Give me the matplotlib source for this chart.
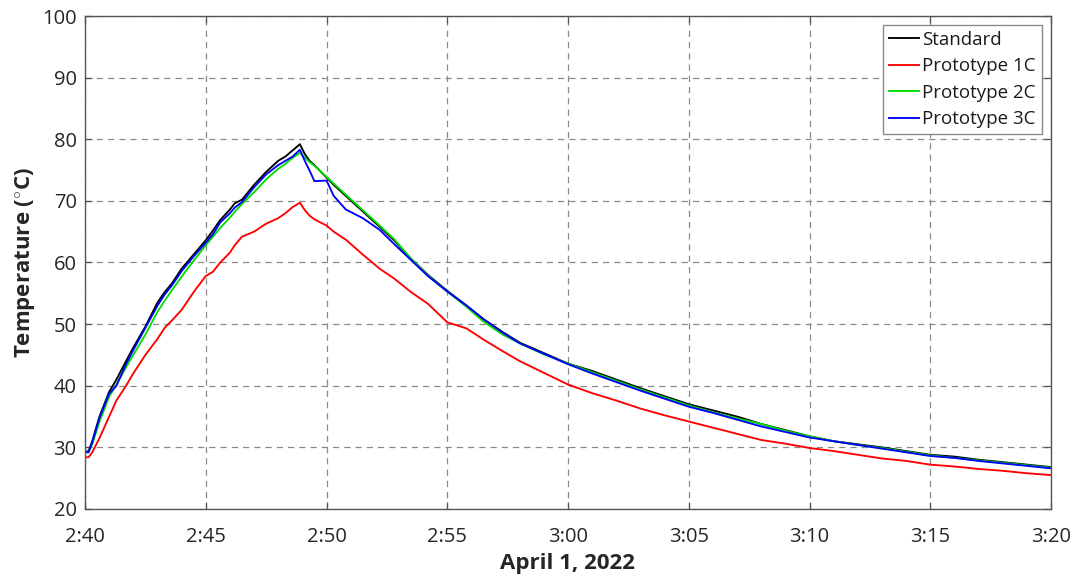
import matplotlib
matplotlib.use("Agg")
import matplotlib.pyplot as plt

plt.rcParams['font.family'] = ['Open Sans', 'DejaVu Sans']
plt.rcParams['mathtext.fontset'] = 'custom'
plt.rcParams['mathtext.rm'] = 'Open Sans'
plt.rcParams['mathtext.bf'] = 'Open Sans:bold'

# minutes after 2:40
t = [0, 0.15, 0.3, 0.6, 1.0, 1.3, 1.7, 2.0, 2.5, 3.0, 3.3, 3.6, 4.0, 4.5, 5.0, 5.3, 5.6,
     6.0, 6.2, 6.5, 7.0, 7.5, 8.0, 8.3, 8.6, 8.9, 9.1, 9.3, 9.5, 10.0, 10.3, 10.8, 11.5,
     12.2, 12.8, 13.5, 14.2, 15.0, 15.8, 16.5, 17.3, 18.0, 19.0, 20.0, 21.0, 22.0, 23.0,
     24.0, 25.0, 26.0, 27.0, 28.0, 29.0, 30.0, 31.0, 32.0, 33.0, 34.0, 35.0, 36.0, 37.0,
     38.0, 39.0, 40.0]

standard = [29.3, 29.4, 31.0, 35.0, 39.0, 41.0, 44.0, 46.2, 49.6, 53.5, 55.2, 56.6, 59.0,
            61.3, 63.6, 65.2, 66.9, 68.6, 69.6, 70.2, 72.6, 74.7, 76.5, 77.2, 78.2, 79.2,
            77.6, 76.5, 75.8, 73.8, 72.6, 70.8, 68.3, 65.8, 63.6, 60.6, 58.0, 55.4, 53.0,
            50.8, 48.7, 47.0, 45.3, 43.6, 42.4, 41.0, 39.6, 38.3, 37.0, 36.0, 35.0, 33.8,
            32.8, 31.8, 31.0, 30.5, 30.0, 29.4, 28.8, 28.5, 28.0, 27.6, 27.2, 26.8]

proto1c = [28.4, 28.4, 29.2, 31.5, 35.0, 37.6, 40.0, 42.0, 45.0, 47.6, 49.4, 50.6, 52.3,
           55.2, 57.8, 58.5, 60.0, 61.6, 62.8, 64.2, 65.0, 66.3, 67.2, 68.0, 69.0, 69.7,
           68.5, 67.6, 67.0, 66.0, 65.0, 63.7, 61.3, 59.0, 57.4, 55.2, 53.3, 50.3, 49.3,
           47.5, 45.6, 44.0, 42.1, 40.2, 38.8, 37.6, 36.3, 35.2, 34.2, 33.2, 32.2, 31.2,
           30.6, 29.9, 29.4, 28.8, 28.2, 27.8, 27.2, 26.9, 26.5, 26.2, 25.8, 25.5]

proto2c = [29.2, 29.3, 30.5, 34.2, 38.2, 40.2, 43.0, 45.0, 48.3, 52.0, 53.8, 55.5, 57.7,
           60.3, 62.8, 64.2, 65.6, 67.3, 68.2, 69.5, 71.4, 73.5, 75.2, 76.0, 77.0, 77.8,
           77.0, 76.3, 75.7, 73.9, 72.8, 71.0, 68.5, 66.0, 63.8, 60.6, 57.9, 55.3, 52.8,
           50.4, 48.3, 46.9, 45.1, 43.6, 42.2, 40.8, 39.4, 38.1, 36.8, 35.7, 34.7, 33.8,
           32.7, 31.8, 31.0, 30.4, 29.9, 29.3, 28.7, 28.3, 27.9, 27.5, 27.1, 26.7]

proto3c = [29.2, 29.2, 30.8, 34.8, 38.7, 40.0, 43.5, 45.8, 49.4, 53.0, 54.8, 56.3, 58.6,
           61.0, 63.2, 64.6, 66.5, 68.0, 68.9, 69.8, 72.2, 74.3, 75.8, 76.5, 77.2, 78.3,
           76.5, 74.9, 73.2, 73.3, 70.8, 68.6, 67.2, 65.3, 63.0, 60.4, 57.8, 55.3, 53.0,
           50.8, 48.6, 46.9, 45.2, 43.5, 42.0, 40.6, 39.2, 37.9, 36.6, 35.6, 34.5, 33.4,
           32.5, 31.6, 31.0, 30.4, 29.8, 29.2, 28.6, 28.3, 27.8, 27.4, 27.0, 26.6]

x_ticks = [0, 5, 10, 15, 20, 25, 30, 35, 40]
x_ticklabels = ["2:40", "2:45", "2:50", "2:55", "3:00", "3:05", "3:10", "3:15", "3:20"]
y_ticks = [20, 30, 40, 50, 60, 70, 80, 90, 100]

fig = plt.figure(figsize=(10.75, 5.79), dpi=100)
ax = fig.add_axes([85/1075, 1-509/579, (1051-85)/1075, (509-16)/579])

ax.plot(t, standard, color='black', lw=1.35, label='Standard')
ax.plot(t, proto1c, color='#ff0000', lw=1.35, label='Prototype 1C')
ax.plot(t, proto2c, color='#00e000', lw=1.35, label='Prototype 2C')
ax.plot(t, proto3c, color='#0000ff', lw=1.35, label='Prototype 3C')

ax.set_xlim(0, 40)
ax.set_ylim(20, 100)
ax.set_xticks(x_ticks)
ax.set_xticklabels(x_ticklabels)
ax.set_yticks(y_ticks)

ax.grid(True, color='#8a8a8a', linestyle=(0, (5, 4)), lw=0.9)
ax.set_axisbelow(True)
for s in ax.spines.values():
    s.set_color('#555555')
    s.set_linewidth(1.0)
ax.tick_params(direction='in', length=5, width=0.9, color='#555555',
               labelsize=14.5, labelcolor='#262626', top=True, right=True)
ax.tick_params(axis='x', pad=13)
ax.tick_params(axis='y', pad=6)

ax.set_xlabel('April 1, 2022', fontsize=16, fontweight='bold', color='#262626', labelpad=4)
ax.set_ylabel(r'Temperature ($^{\circ}$C)', fontsize=16, fontweight='bold', color='#262626', labelpad=3)

leg = ax.legend(loc='upper right', fontsize=13.5, handlelength=1.6, handletextpad=0.2,
                borderpad=0.3, labelspacing=0.45, fancybox=False, framealpha=1,
                edgecolor='#8a8a8a', borderaxespad=0.5)
leg.get_frame().set_linewidth(1.0)
for txt in leg.get_texts():
    txt.set_color('#1a1a1a')

fig.savefig('out.png', dpi=100)
